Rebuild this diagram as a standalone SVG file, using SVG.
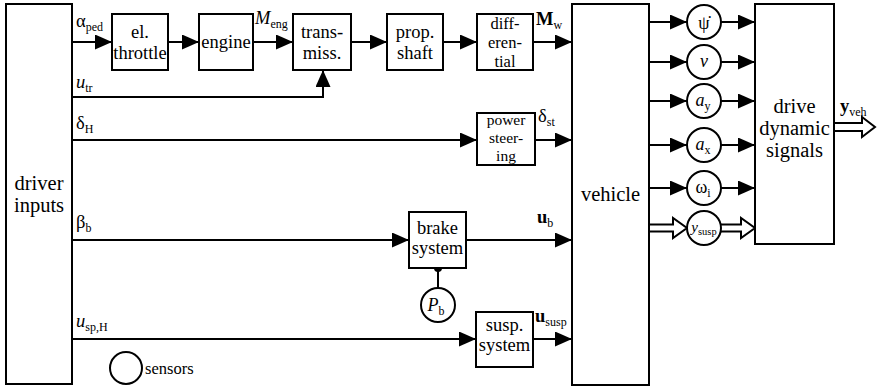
<svg xmlns="http://www.w3.org/2000/svg" width="877" height="389" viewBox="0 0 877 389">
  <defs>
    <marker id="arrow" markerUnits="userSpaceOnUse" markerWidth="17" markerHeight="15" refX="17" refY="7.5" orient="auto">
      <path d="M0,0 L17,7.5 L0,15 z" fill="#000"/>
    </marker>
  </defs>
  <style>
    .box { fill: #fff; stroke: #000; stroke-width: 2; }
    .sens { fill: #fff; stroke: #000; stroke-width: 2; }
    .wire { fill: none; stroke: #000; stroke-width: 2; }
    .arr { marker-end: url(#arrow); }
    .hollow { fill: #fff; stroke: #000; stroke-width: 2; stroke-linejoin: miter; }
    text { font-family: "Liberation Serif", "Times New Roman", "DejaVu Serif", serif; fill: #000; }
    .lbl { font-size: 18.5px; text-anchor: middle; }
    .lbl3 { font-size: 16.5px; text-anchor: middle; }
    .lbl3s { font-size: 15.5px; text-anchor: middle; }
    .big { font-size: 20.5px; text-anchor: middle; }
    .sig { font-size: 18.5px; }
    .sub { font-size: 12px; font-style: normal; font-weight: normal; }
    .it { font-style: italic; }
    .bf { font-weight: bold; }
    .cs { font-size: 18px; text-anchor: middle; }
  </style>

  <!-- signal wires -->
  <g id="connectors">
    <line class="wire arr" x1="72" y1="42" x2="112" y2="42"/>
    <line class="wire arr" x1="168" y1="42" x2="199" y2="42"/>
    <line class="wire arr" x1="253" y1="42" x2="293" y2="42"/>
    <line class="wire arr" x1="351" y1="42" x2="387" y2="42"/>
    <line class="wire arr" x1="443" y1="42" x2="477" y2="42"/>
    <line class="wire arr" x1="533" y1="42" x2="572" y2="42"/>
    <polyline class="wire arr" points="72,97 323,97 323,70"/>
    <line class="wire arr" x1="72" y1="140" x2="477" y2="140"/>
    <line class="wire arr" x1="535" y1="140" x2="572" y2="140"/>
    <line class="wire arr" x1="72" y1="240" x2="409" y2="240"/>
    <line class="wire arr" x1="466" y1="240" x2="572" y2="240"/>
    <line class="wire" x1="438" y1="268" x2="438" y2="288"/>
    <circle cx="438" cy="268" r="4" fill="#000"/>
    <line class="wire arr" x1="72" y1="339" x2="476" y2="339"/>
    <line class="wire arr" x1="533" y1="339" x2="572" y2="339"/>

    <line class="wire arr" x1="649" y1="22" x2="687" y2="22"/>
    <line class="wire arr" x1="721" y1="22" x2="755" y2="22"/>
    <line class="wire arr" x1="649" y1="62" x2="687" y2="62"/>
    <line class="wire arr" x1="721" y1="62" x2="755" y2="62"/>
    <line class="wire arr" x1="649" y1="101" x2="687" y2="101"/>
    <line class="wire arr" x1="721" y1="101" x2="755" y2="101"/>
    <line class="wire arr" x1="649" y1="145" x2="687" y2="145"/>
    <line class="wire arr" x1="721" y1="145" x2="755" y2="145"/>
    <line class="wire arr" x1="649" y1="188" x2="687" y2="188"/>
    <line class="wire arr" x1="721" y1="188" x2="755" y2="188"/>

    <!-- vector-valued (hollow) arrows -->
    <path class="hollow" d="M649,224.5 L673,224.5 L673,218 L687,228 L673,238 L673,231.5 L649,231.5"/>
    <path class="hollow" d="M721,224.5 L741,224.5 L741,218 L755,228 L741,238 L741,231.5 L721,231.5"/>
    <path class="hollow" d="M834,123 L862,123 L862,117 L875,127 L862,137 L862,131 L834,131"/>
  </g>

  <!-- signal labels -->
  <g id="labels">
    <text class="sig" x="76" y="27">α<tspan class="sub" dy="4">ped</tspan></text>
    <text class="sig it" x="76" y="88">u<tspan class="sub" dy="4">tr</tspan></text>
    <text class="sig it" x="255" y="24">M<tspan class="sub" dy="4">eng</tspan></text>
    <text class="sig bf" x="536" y="25">M<tspan class="sub" dy="4">w</tspan></text>
    <text class="sig" x="76" y="129">δ<tspan class="sub" dy="4">H</tspan></text>
    <text class="sig" x="538" y="122">δ<tspan class="sub" dy="4">st</tspan></text>
    <text class="sig" x="76" y="228">β<tspan class="sub" dy="4">b</tspan></text>
    <text class="sig bf" x="537" y="223">u<tspan class="sub" dy="4">b</tspan></text>
    <text class="sig it" x="76" y="327">u<tspan class="sub" dy="4">sp,H</tspan></text>
    <text class="sig bf" x="535" y="322">u<tspan class="sub" dy="4">susp</tspan></text>
    <text class="sig bf" x="840" y="112">y<tspan class="sub" dy="4">veh</tspan></text>
  </g>

  <g id="driver-inputs">
    <rect class="box" x="6" y="4" width="66" height="380"/>
    <text class="big" x="39" y="190">driver</text>
    <text class="big" x="39" y="212">inputs</text>
  </g>
  <g id="el-throttle">
    <rect class="box" x="112" y="14" width="56" height="56"/>
    <text class="lbl" x="140" y="38">el.</text>
    <text class="lbl" x="140" y="59">throttle</text>
  </g>
  <g id="engine">
    <rect class="box" x="199" y="14" width="54" height="56"/>
    <text class="lbl" x="226" y="48">engine</text>
  </g>
  <g id="transmission">
    <rect class="box" x="293" y="14" width="58" height="56"/>
    <text class="lbl" x="322" y="38">trans-</text>
    <text class="lbl" x="322" y="59">miss.</text>
  </g>
  <g id="prop-shaft">
    <rect class="box" x="387" y="14" width="56" height="56"/>
    <text class="lbl" x="415" y="38">prop.</text>
    <text class="lbl" x="415" y="59">shaft</text>
  </g>
  <g id="differential">
    <rect class="box" x="477" y="14" width="56" height="56"/>
    <text class="lbl3" x="505" y="29">diff-</text>
    <text class="lbl3" x="505" y="48">eren-</text>
    <text class="lbl3" x="505" y="67">tial</text>
  </g>
  <g id="power-steering">
    <rect class="box" x="477" y="113" width="58" height="52"/>
    <text class="lbl3s" x="506" y="125">power</text>
    <text class="lbl3s" x="506" y="143">steer-</text>
    <text class="lbl3s" x="506" y="161">ing</text>
  </g>
  <g id="brake-system">
    <rect class="box" x="409" y="212" width="57" height="56"/>
    <text class="lbl" x="437.5" y="234">brake</text>
    <text class="lbl" x="437.5" y="254">system</text>
  </g>
  <g id="brake-pressure">
    <circle class="sens" cx="438" cy="305" r="17"/>
    <text class="cs" x="436" y="311"><tspan class="it">P</tspan><tspan class="sub" dy="4">b</tspan></text>
  </g>
  <g id="susp-system">
    <rect class="box" x="476" y="312" width="57" height="55"/>
    <text class="lbl" x="504.5" y="331">susp.</text>
    <text class="lbl" x="504.5" y="351">system</text>
  </g>
  <g id="vehicle">
    <rect class="box" x="572" y="4" width="77" height="381"/>
    <text class="big" x="610.5" y="201">vehicle</text>
  </g>

  <g id="sensor-yaw-rate">
    <circle class="sens" cx="704" cy="22" r="17"/>
    <text class="cs" x="704" y="29">ψ̇</text>
  </g>
  <g id="sensor-speed">
    <circle class="sens" cx="704" cy="62" r="17"/>
    <text class="cs it" x="704" y="67">v</text>
  </g>
  <g id="sensor-ay">
    <circle class="sens" cx="704" cy="101" r="17"/>
    <text class="cs" x="703" y="106"><tspan class="it">a</tspan><tspan class="sub" dy="4">y</tspan></text>
  </g>
  <g id="sensor-ax">
    <circle class="sens" cx="704" cy="145" r="17"/>
    <text class="cs" x="703" y="150"><tspan class="it">a</tspan><tspan class="sub" dy="4">x</tspan></text>
  </g>
  <g id="sensor-wheel-speed">
    <circle class="sens" cx="704" cy="188" r="17"/>
    <text class="cs" x="703" y="193">ω<tspan class="sub" dy="4">i</tspan></text>
  </g>
  <g id="sensor-susp">
    <circle class="sens" cx="704" cy="228" r="17"/>
    <text class="cs" x="704" y="232" style="font-size:15px"><tspan class="it">y</tspan><tspan class="sub" dy="3" style="font-size:10.5px">susp</tspan></text>
  </g>

  <g id="drive-dynamic-signals">
    <rect class="box" x="755" y="4" width="79" height="240"/>
    <text class="big" x="794.5" y="113">drive</text>
    <text class="big" x="794.5" y="135">dynamic</text>
    <text class="big" x="794.5" y="157">signals</text>
  </g>

  <g id="legend">
    <circle class="sens" cx="126" cy="368" r="16"/>
    <text x="145" y="374" style="font-size:16.5px">sensors</text>
  </g>
</svg>
